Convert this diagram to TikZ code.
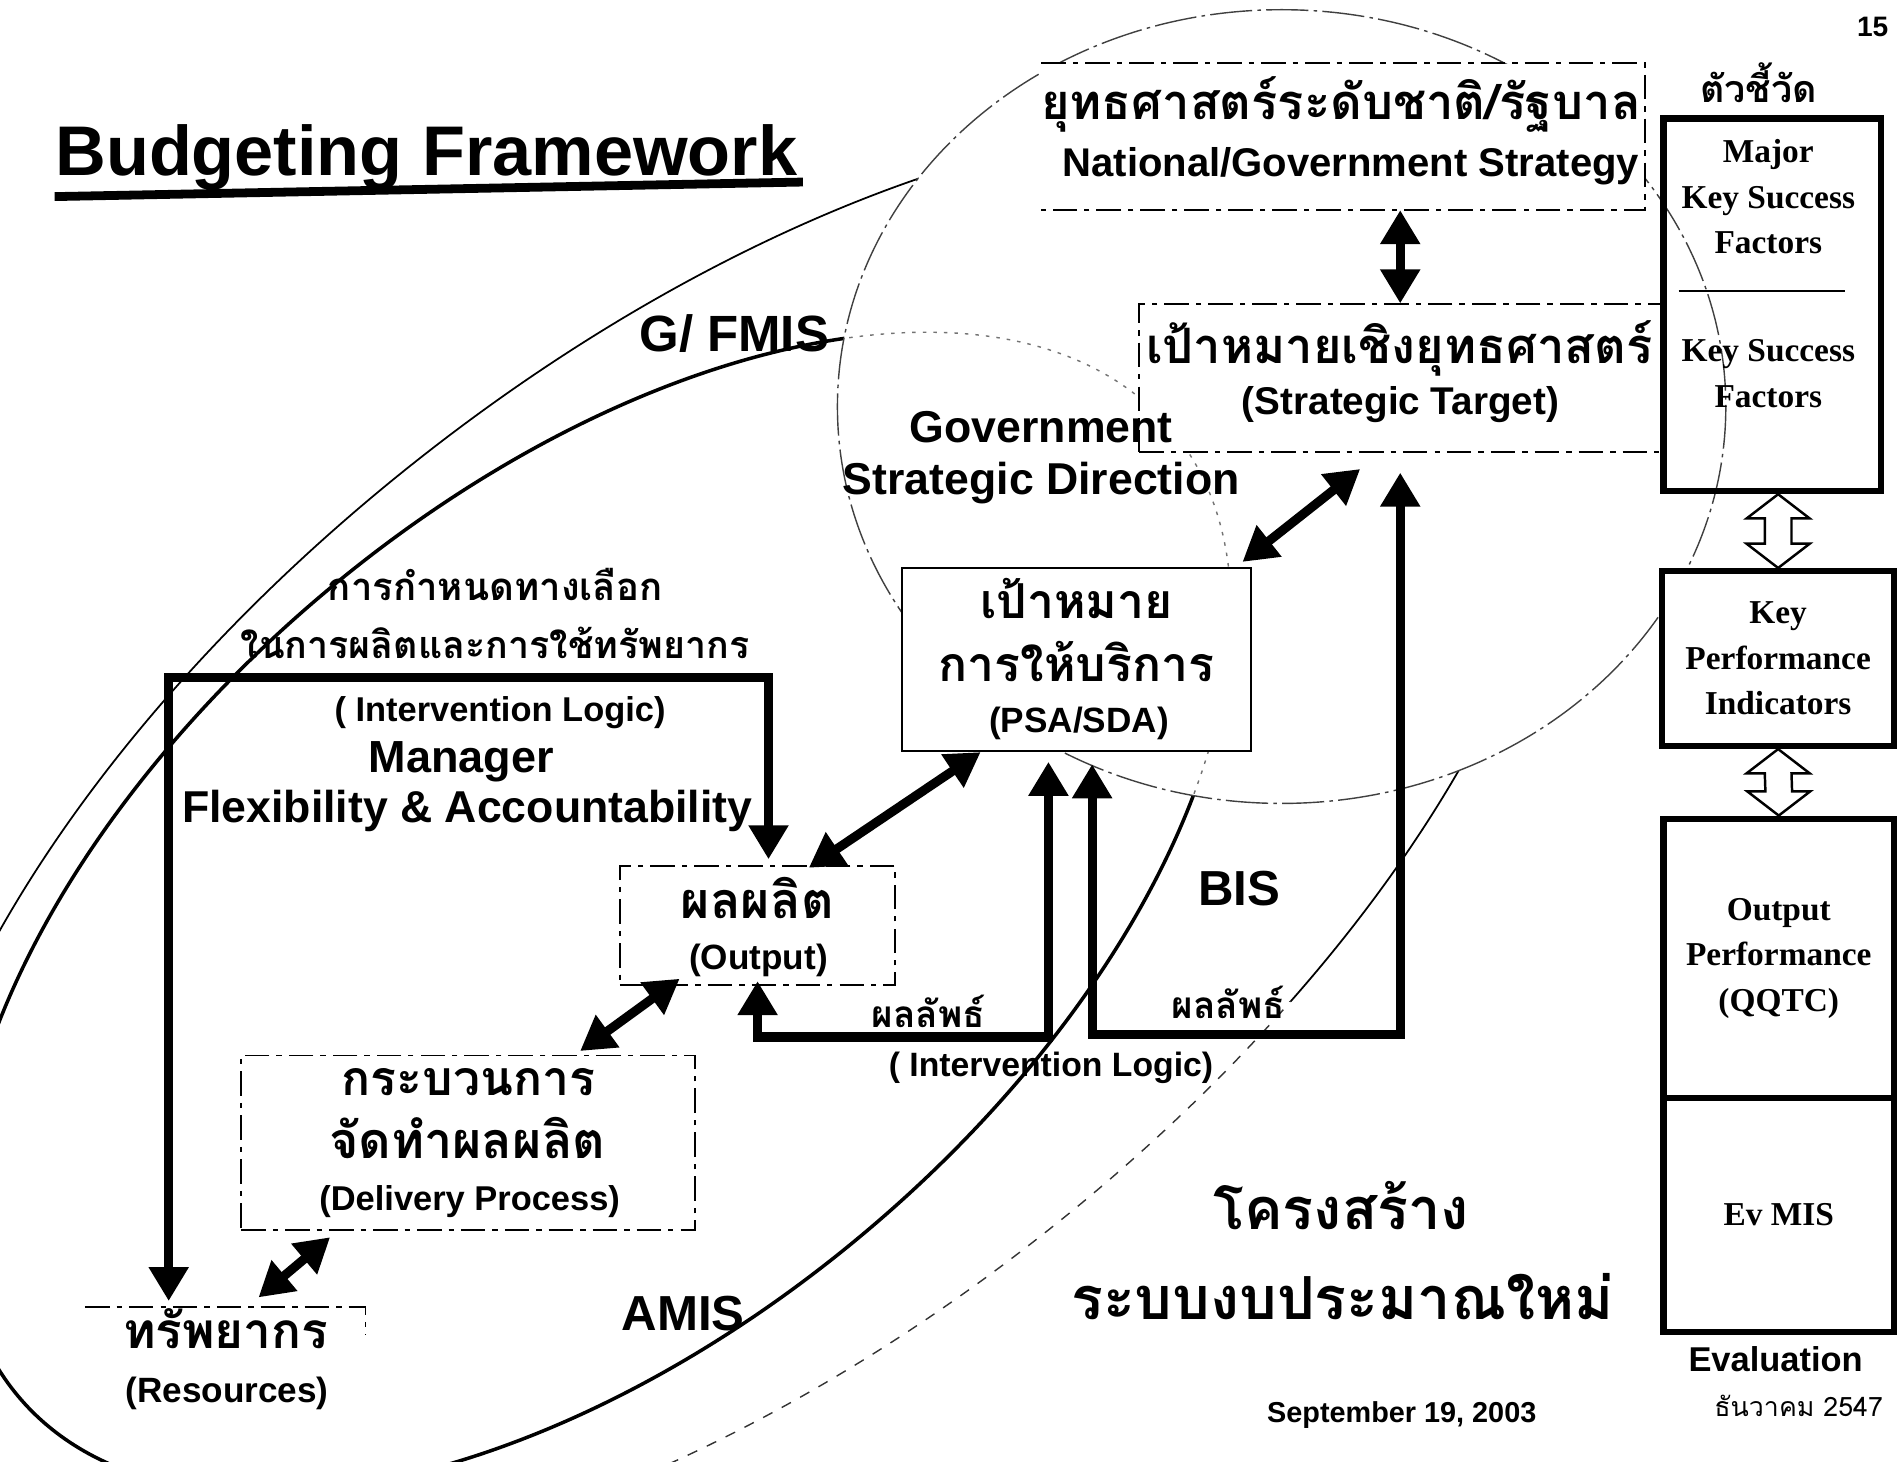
\documentclass[tikz,border=0pt]{standalone}
\usepackage{fontspec}
\setmainfont{Liberation Sans}
\newfontfamily\thaifont[Script=Thai]{Loma}
\newfontfamily\timesfont{Liberation Serif}
\usetikzlibrary{arrows.meta,positioning,calc}

\def\px{0.12137mm}
\newcommand\fsz[1]{\fontsize{#1}{#1}\selectfont}
% outlined double arrow between two points (top, bottom)
\newcommand{\hollowarrow}[2]{%
  \draw[hollow] (#1) -- ++(26,20) -- ++(-15,0) -- ($(#2)+(11,-20)$) -- ++(15,0) -- (#2)
    -- ++(-26,-20) -- ++(15,0) -- ($(#1)+(-11,20)$) -- ++(-15,0) -- cycle;}

\begin{document}
\begin{tikzpicture}[x=\px, y=-\px]

	\tikzstyle{dashline}=[line width=0.5pt, dash pattern=on 7pt off 2pt on 1.5pt off 2pt]
	\tikzstyle{dashbox}=[dashline, draw, fill=white, inner sep=0pt]
	\tikzstyle{solidbox}=[draw, line width=0.6pt, fill=white, inner sep=0pt]
	\tikzstyle{kbox}=[draw, line width=1.8pt, inner sep=0pt, align=center, font=\timesfont\bfseries\fontsize{9.5}{13}\selectfont]
	\tikzstyle{tms}=[inner sep=0pt, align=center, font=\timesfont\bfseries\fontsize{9.5}{13}\selectfont]
	\tikzstyle{lbl}=[font=\bfseries, inner sep=0pt]
	\tikzstyle{thai}=[font=\thaifont\bfseries, inner sep=0pt]
	\tikzstyle{flow}=[line width=2.6pt, {Triangle[length=3.4mm,width=3.8mm]}-{Triangle[length=3.4mm,width=3.8mm]}]
	\tikzstyle{hollow}=[line width=0.7pt, fill=white]
	\tikzstyle{ring}=[line width=0.4pt, black!75, dash pattern=on 12pt off 1.5pt on 1pt off 1.5pt]
	\tikzstyle{hidden}=[line width=0.4pt, black!55, dash pattern=on 1pt off 2pt]

	\useasboundingbox (0,0) rectangle (1568,1204);
	\clip (0,0) rectangle (1568,1204);

	% information system areas
	\begin{scope}
		\clip (0,0) rectangle (1568,825);
		\draw[line width=0.5pt, shift={(603,697)}, rotate=38] (0,0) ellipse [x radius=815, y radius=410];
	\end{scope}
	\begin{scope}
		\clip (0,825) rectangle (1568,1204);
		\draw[line width=0.4pt, black!80, dash pattern=on 3pt off 3pt, shift={(603,697)}, rotate=38] (0,0) ellipse [x radius=815, y radius=410];
	\end{scope}
	\draw[line width=1pt, shift={(490,752)}, rotate=40] (0,0) ellipse [x radius=620, y radius=345];
	\fill[white] (1056,335) ellipse [x radius=366, y radius=327];
	\begin{scope}
		\clip (1056,335) ellipse [x radius=366, y radius=327];
		\draw[hidden, shift={(490,752)}, rotate=40] (0,0) ellipse [x radius=620, y radius=345];
	\end{scope}
	\draw[ring] (1056,335) ellipse [x radius=366, y radius=327];

	% title
	\node[lbl, anchor=base west] (title) at (45,145) {\fsz{20}Budgeting Framework};
	\draw[line width=2.5pt] ($(title.base west)+(0,17)$) -- ($(title.base east)+(4,5)$);
	\node[lbl] (pageno) at (1543,22) {\fsz{8}15};

	% strategy level
	\node[minimum width=496*\px, minimum height=120*\px, anchor=north west, fill=white, inner sep=0pt] (natl) at (858,52) {};
	\draw[dashline] (natl.north west) -- (natl.north east) -- (natl.south east) -- (natl.south west);
	\node[thai] (natlth) at (1105,86) {\fsz{13.9}ยุทธศาสตร์ระดับชาติ/รัฐบาล};
	\node[lbl] (natlen) at (1113,137) {\fsz{11.4}National/Government Strategy};

	\node[dashbox, minimum width=430*\px, minimum height=122*\px, anchor=north west] (strat) at (938,250) {};
	\node[thai] (stratth) at (1153,287) {\fsz{13.9}เป้าหมายเชิงยุทธศาสตร์};
	\node[lbl] (straten) at (1154,333) {\fsz{11}(Strategic Target)};

	\node[lbl, align=center, font=\bfseries\fontsize{12.7}{14.8}\selectfont] (govdir) at (858,377) {Government\\Strategic Direction};
	\node[lbl] (gfmis) at (605,275) {\fsz{14.5}G/ FMIS};

	% indicators column
	\node[thai] (indic) at (1449,68) {\fsz{10.7}ตัวชี้วัด};
	\node[kbox, minimum width=179*\px, minimum height=307*\px, anchor=north west] (ksf) at (1368,95) {};
	\node[tms] (ksfa) at (1457,162) {Major\\Key Success\\Factors};
	\draw[line width=0.5pt] ($(ksf.north west)+(15,145)$) -- ($(ksf.north east)+(-32,145)$);
	\node[tms] (ksfb) at (1457,308) {Key Success\\Factors};
	\node[kbox, fill=white, minimum width=191*\px, minimum height=144*\px, anchor=north west] (kpi) at (1367,468) {Key\\Performance\\Indicators};
	\node[kbox, fill=white, minimum width=190*\px, minimum height=230*\px, anchor=north west] (outp) at (1368,672) {Output\\Performance\\(QQTC)};
	\node[kbox, fill=white, minimum width=190*\px, minimum height=193*\px, anchor=north west] (evmis) at (1368,902) {Ev MIS};
	\coordinate (ha1) at (kpi.north |- ksf.south);
	\hollowarrow{ha1}{kpi.north}
	\hollowarrow{kpi.south}{outp.north}
	\node[lbl] (evallbl) at (1463,1120) {\fsz{9.8}Evaluation};
	\node[font=\thaifont, inner sep=0pt] (datelbl) at (1482,1158) {\fsz{7.6}ธันวาคม 2547};

	% service target
	\node[solidbox, minimum width=288*\px, minimum height=151*\px, anchor=north west] (psa) at (742,467) {};
	\node[thai] (psath1) at (887,493) {\fsz{13.7}เป้าหมาย};
	\node[thai] (psath2) at (887,545) {\fsz{13.7}การให้บริการ};
	\node[lbl] (psaen) at (889,596) {\fsz{10}(PSA/SDA)};

	% output
	\node[dashbox, minimum width=227*\px, minimum height=98*\px, anchor=north west] (out) at (510,713) {};
	\node[thai] (outth) at (624,740) {\fsz{14.3}ผลผลิต};
	\node[lbl] (outen) at (625,791) {\fsz{10}(Output)};

	% delivery process
	\node[dashbox, minimum width=374*\px, minimum height=144*\px, anchor=north west] (deliv) at (198,869) {};
	\node[thai] (delivth1) at (386,892) {\fsz{13.7}กระบวนการ};
	\node[thai] (delivth2) at (385,938) {\fsz{14.3}จัดทำผลผลิต};
	\node[lbl] (deliven) at (387,990) {\fsz{9.8}(Delivery Process)};

	% resources
	\node[minimum width=230*\px, minimum height=90*\px, anchor=north west, inner sep=0pt] (res) at (70,1077) {};
	\draw[dashline] (res.north west) -- (res.north east) -- ++(0,23);
	\node[thai] (resth) at (186,1095) {\fsz{14.1}ทรัพยากร};
	\node[lbl] (resen) at (187,1148) {\fsz{10}(Resources)};

	% manager logic
	\node[thai] (choice1) at (408,482) {\fsz{10.9}การกำหนดทางเลือก};
	\node[thai] (choice2) at (408,530) {\fsz{10.7}ในการผลิตและการใช้ทรัพยากร};
	\node[lbl] (illogic1) at (412,587) {\fsz{9.8}( Intervention Logic)};
	\node[lbl] (manager) at (380,628) {\fsz{12.8}Manager};
	\node[lbl] (flexacc) at (385,668) {\fsz{12.7}Flexibility \& Accountability};

	% result loops
	\node[thai] (result1) at (765,833) {\fsz{10.5}ผลลัพธ์};
	\node[thai] (result2) at (1012,826) {\fsz{10.5}ผลลัพธ์};
	\node[lbl] (illogic2) at (866,880) {\fsz{9.6}( Intervention Logic)};

	\node[lbl] (bis) at (1021,732) {\fsz{14}BIS};
	\node[lbl] (amis) at (563,1082) {\fsz{14}AMIS};

	\node[thai] (struct1) at (1105,993) {\fsz{16.4}โครงสร้าง};
	\node[thai] (struct2) at (1106,1068) {\fsz{16.9}ระบบงบประมาณใหม่};
	\node[lbl] (sept) at (1155,1166) {\fsz{8.2}September 19, 2003};

	% links
	\draw[flow] (natl.south -| strat.north) -- (strat.north);
	\draw[flow] ($(strat.south)+(-33,13)$) -- ($(psa.north east)+(-8,-4)$);
	\draw[flow] ($(psa.south west)+(66,0)$) -- ($(out.north east)+(-72,2)$);
	\draw[flow] ($(out.south west)+(50,-6)$) -- ($(deliv.north west)+(280,-3)$);
	\draw[flow] ($(deliv.south west)+(74,5)$) -- ($(res.north west)+(143,-8)$);

	\coordinate (ilcorner) at (139,558);
	\draw[flow] ($(out.north)+(9,-5)$) |- (ilcorner) -- ($(res.north -| ilcorner)+(0,-5)$);

	\draw[flow] ($(out.south)+(0,-4)$) -- ++(0,46) -| ($(psa.south)+(-23,8)$);
	\draw[flow] ($(psa.south)+(13,10)$) -- ++(0,223) -| ($(strat.south)+(0,16)$);

\end{tikzpicture}
\end{document}
